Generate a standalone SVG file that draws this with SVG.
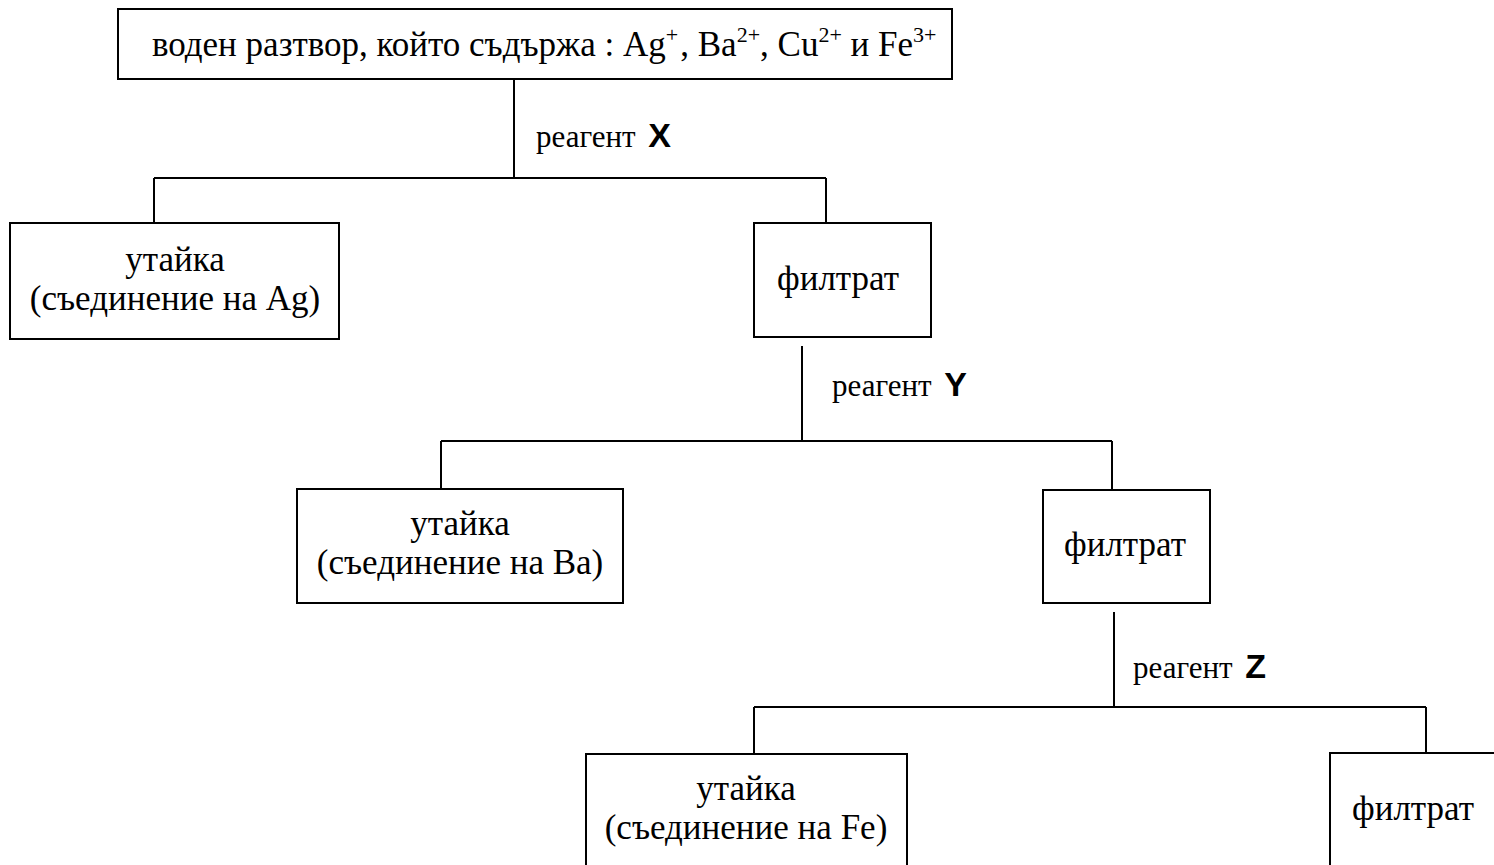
<svg xmlns="http://www.w3.org/2000/svg" width="1494" height="865" viewBox="0 0 1494 865">
<style>
.box{fill:#fff;stroke:#000;stroke-width:2}
.ln{fill:none;stroke:#000;stroke-width:2}
text{font-family:"Liberation Serif","Times New Roman",serif;font-size:35px;fill:#000}
.c{text-anchor:middle}
.r{font-size:31px}
.b{font-family:"Liberation Sans",Arial,sans-serif;font-weight:bold;font-size:34px}
.sup{font-size:22px}
</style>
<rect width="1494" height="865" fill="#fff"/>
<g id="connectors">
<path class="ln" d="M514 79V178M154 178H826M154 178V222M826 178V222"/>
<path class="ln" d="M802 346V441M441 441H1112M441 441V489M1112 441V489"/>
<path class="ln" d="M1114 612V707M754 707H1426M754 707V753M1426 707V753"/>
<text class="r" x="536" y="147">реагент <tspan class="b" dx="5">X</tspan></text>
<text class="r" x="832" y="396">реагент <tspan class="b" dx="5">Y</tspan></text>
<text class="r" x="1133" y="678">реагент <tspan class="b" dx="5">Z</tspan></text>
</g>
<g id="start">
<rect class="box" x="118" y="9" width="834" height="70"/>
<text x="152" y="56">воден разтвор, който съдържа : Ag<tspan class="sup" dy="-14">+</tspan><tspan dy="14" dx="2">, Ba</tspan><tspan class="sup" dy="-14">2+</tspan><tspan dy="14">, Cu</tspan><tspan class="sup" dy="-14">2+</tspan><tspan dy="14"> и Fe</tspan><tspan class="sup" dy="-14">3+</tspan></text>
</g>
<g id="precip-ag">
<rect class="box" x="10" y="223" width="329" height="116"/>
<text class="c" x="175" y="271">утайка</text>
<text class="c" x="175" y="310">(съединение на Ag)</text>
</g>
<g id="filtrate-1">
<rect class="box" x="754" y="223" width="177" height="114"/>
<text class="c" x="838" y="290">филтрат</text>
</g>
<g id="precip-ba">
<rect class="box" x="297" y="489" width="326" height="114"/>
<text class="c" x="460" y="535">утайка</text>
<text class="c" x="460" y="574">(съединение на Ba)</text>
</g>
<g id="filtrate-2">
<rect class="box" x="1043" y="490" width="167" height="113"/>
<text class="c" x="1125" y="556">филтрат</text>
</g>
<g id="precip-fe">
<rect class="box" x="586" y="754" width="321" height="130"/>
<text class="c" x="746" y="800">утайка</text>
<text class="c" x="746" y="839">(съединение на Fe)</text>
</g>
<g id="filtrate-3">
<rect class="box" x="1330" y="753" width="180" height="130"/>
<text x="1352" y="820">филтрат</text>
</g>
</svg>
